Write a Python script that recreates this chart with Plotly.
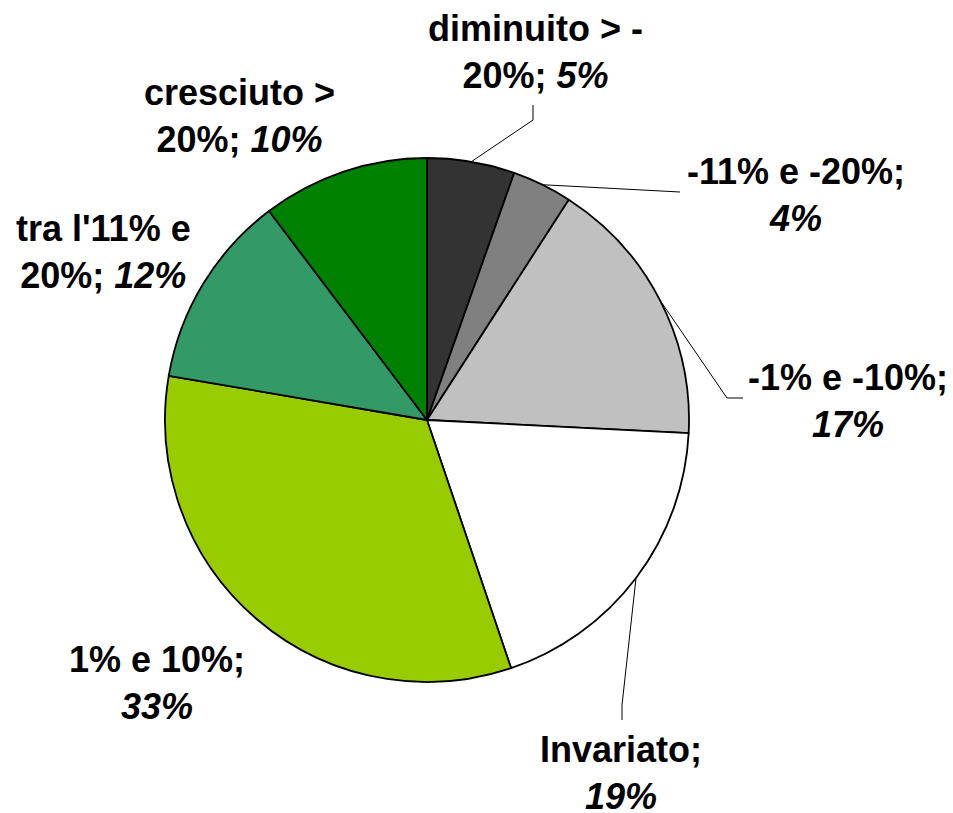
import math
import plotly.graph_objects as go

# slice data, clockwise from 12 o'clock
categories = ["diminuito > -20%", "-11% e -20%", "-1% e -10%", "Invariato",
              "1% e 10%", "tra l'11% e 20%", "cresciuto > 20%"]
values = [5.4, 3.7, 16.7, 19.0, 32.9, 12.0, 10.3]
label_lines = [["diminuito > -", "20%;"], ["-11% e -20%;", ""], ["-1% e -10%;", ""],
               ["Invariato;", ""], ["1% e 10%;", ""], ["tra l'11% e", "20%;"],
               ["cresciuto >", "20%;"]]
colors = ["#333333", "#808080", "#C0C0C0", "#FFFFFF", "#99CC00", "#339966", "#008000"]

W, H = 953, 813
OFF = 8  # page body margin
CX, CY, R = 427 - OFF, 420 - OFF, 262

# label centres (screen px) and leader elbows, per slice
label_pos = [(535, 52), (796, 195), (848, 401), (621, 773), (157, 683), (103, 252), (239, 116)]
leader_pts = [[(533, 120), (533, 105)], [(680, 192)], [(727, 398), (743, 398)],
              [(622, 705), (622, 720)], None, None, None]


def to_paper(x, y):
    return x / W, 1 - y / H


fig = go.Figure(go.Pie(
    labels=categories,
    values=values,
    sort=False,
    direction="clockwise",
    rotation=0,
    textinfo="none",
    hoverinfo="label+percent",
    marker=dict(colors=colors, line=dict(color="black", width=1.8)),
    domain=dict(x=[(CX - R) / W, (CX + R) / W], y=[1 - (CY + R) / H, 1 - (CY - R) / H]),
    showlegend=False,
))

total = sum(values)
cum = 0
annotations = []
shapes = []
for i, v in enumerate(values):
    theta = 2 * math.pi * (cum + v / 2) / total
    cum += v
    pct = f"<i>{round(100 * v / total)}%</i>"
    l1, l2 = label_lines[i]
    second = f"{l2} {pct}" if l2 else pct
    lx, ly = to_paper(label_pos[i][0] - OFF, label_pos[i][1] - OFF)
    annotations.append(dict(
        x=lx, y=ly, xref="paper", yref="paper", xanchor="center", yanchor="middle",
        text=f"<b>{l1}<br>{second}</b>", showarrow=False, align="center",
        font=dict(family="Arial, Liberation Sans, sans-serif", size=36, color="black"),
    ))
    if leader_pts[i]:
        pts = [(CX + R * math.sin(theta), CY - R * math.cos(theta))]
        pts += [(x - OFF, y - OFF) for x, y in leader_pts[i]]
        path = "M " + " L ".join(f"{to_paper(x, y)[0]},{to_paper(x, y)[1]}" for x, y in pts)
        shapes.append(dict(type="path", path=path, xref="paper", yref="paper",
                           line=dict(color="black", width=1)))

fig.update_layout(
    width=W, height=H,
    margin=dict(l=0, r=0, t=0, b=0),
    paper_bgcolor="white",
    plot_bgcolor="white",
    annotations=annotations,
    shapes=shapes,
)

fig.write_html("out.html")
